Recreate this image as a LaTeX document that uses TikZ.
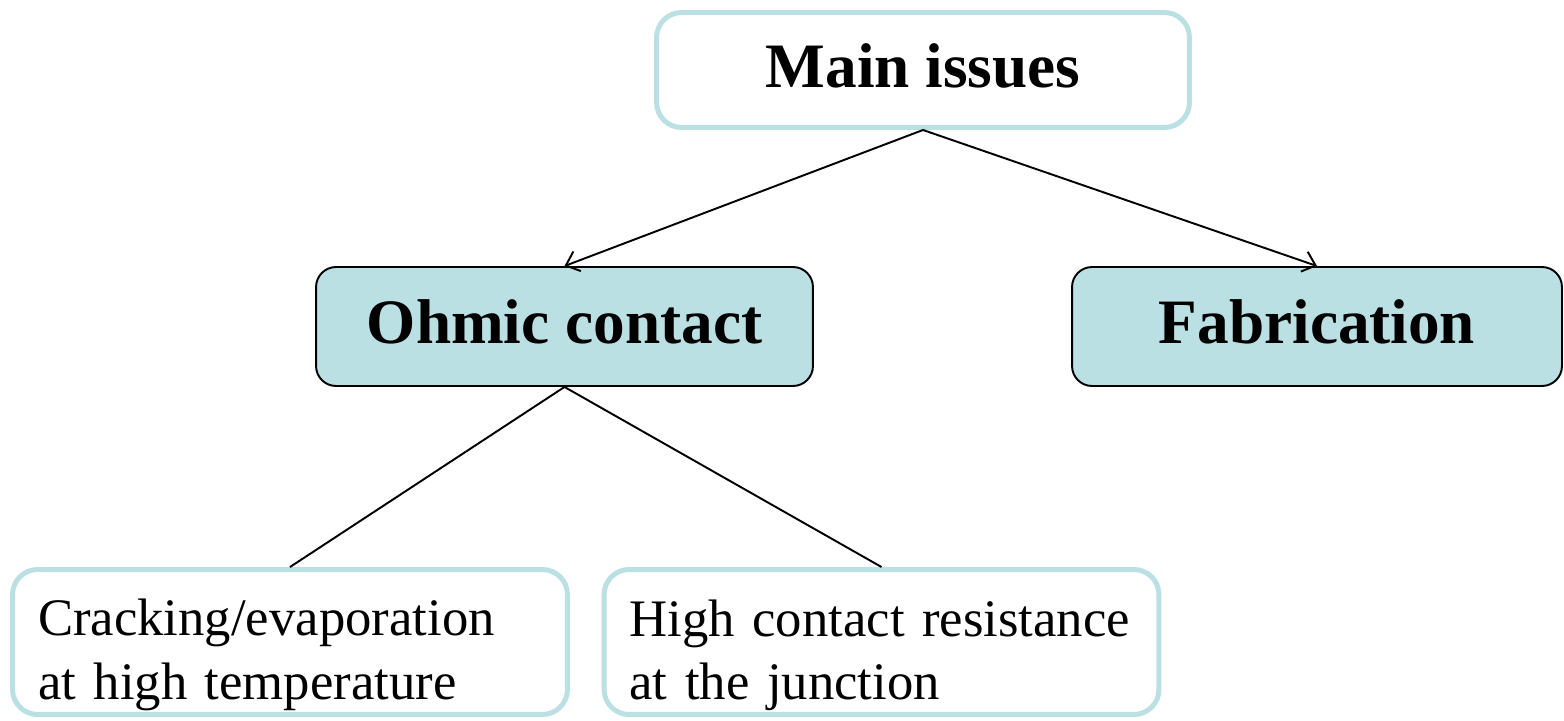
\documentclass[tikz,border=0pt]{standalone}
\usepackage{fontspec}
\setmainfont{Liberation Serif}
\usepackage{xcolor}
\usepackage{tikz}
\usetikzlibrary{arrows.meta, positioning}

\definecolor{tealpale}{RGB}{187,224,227}

\begin{document}
\begin{tikzpicture}[
    x=0.02cm, y=-0.02cm,
    root/.style={rectangle, rounded corners=0.5cm, minimum width=10.66cm, minimum height=2.3cm, text centered, text depth=0.18cm, draw=tealpale, line width=0.1cm, fill=white, font=\bfseries\fontsize{36}{43}\selectfont},
    branch/.style={rectangle, rounded corners=0.4cm, minimum height=2.38cm, text centered, text depth=0.18cm, draw=black, line width=1.1pt, fill=tealpale, font=\bfseries\fontsize{36}{43}\selectfont},
    leaf/.style={rectangle, rounded corners=0.5cm, draw=tealpale, line width=0.1cm, fill=white, align=left, text width=10.08cm, inner xsep=0.51cm, inner ysep=0.05cm, text height=1.25cm, minimum height=2.9cm, font=\fontsize{30}{36}\selectfont},
    arrow/.style={line width=1.1pt, -{Straight Barb[length=0.24cm, width=0.42cm]}},
    link/.style={line width=1.1pt}
]
\useasboundingbox (0,0) rectangle (1564,720);
\clip (0,0) rectangle (1564,720);

\node (main) [root] at (923,70) {Main issues};
\node (ohmic) [branch, minimum width=9.94cm] at (564.5,326.5) {Ohmic contact};
\node (fab) [branch, minimum width=9.8cm] at (1317,326.5) {Fabrication};
\node (crack) [leaf] at (290,642) {Cracking/evaporation\\at high temperature};
\node (junction) [leaf] at (881.5,642) {High contact resistance\\at the junction};

\draw [arrow] (main.south) -- (ohmic.north);
\draw [arrow] (main.south) -- (fab.north);
\draw [link] (ohmic.south) -- (crack.north);
\draw [link] (ohmic.south) -- (junction.north);
\end{tikzpicture}
\end{document}
